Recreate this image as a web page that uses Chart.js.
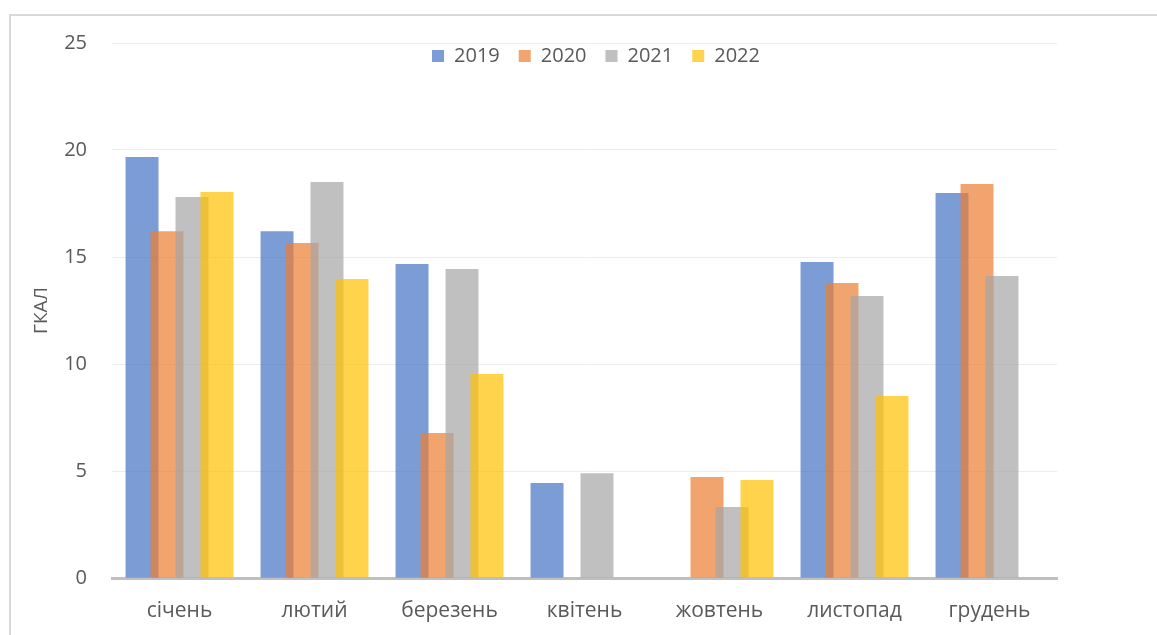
<!DOCTYPE html>
<html>
<head>
<meta charset="utf-8">
<script src="https://cdn.jsdelivr.net/npm/chart.js@4.4.1/dist/chart.umd.min.js"></script>
<style>
  body { margin: 0; background: #fff; }
  #wrap { position: relative; width: 1157px; height: 635px; overflow: hidden; }
  #frame { position: absolute; left: 9px; top: 14px; width: 1200px; height: 700px;
           border-left: 2px solid #d9d9d9; border-top: 2px solid #d9d9d9; }
  #chart { position: absolute; left: 0; top: 0; }
</style>
</head>
<body>
<div id="wrap">
  <div id="frame"></div>
  <canvas id="chart" width="1157" height="635"></canvas>
</div>
<script>
var months = ['січень', 'лютий', 'березень', 'квітень', 'жовтень', 'листопад', 'грудень']
var years = ['2019', '2020', '2021', '2022']
var colors = ['rgba(68,114,196,0.7)', 'rgba(237,125,49,0.7)', 'rgba(165,165,165,0.7)', 'rgba(255,192,0,0.7)']

var v2019 = [19.67, 16.2, 14.67, 4.44, null, 14.77, 17.99]
var v2020 = [16.2, 15.65, 6.78, null, 4.72, 13.79, 18.41]
var v2021 = [17.8, 18.5, 14.44, 4.9, 3.32, 13.18, 14.11]
var v2022 = [18.04, 13.97, 9.53, null, 4.58, 8.5, null]
var values = [v2019, v2020, v2021, v2022]

var yTicks = [0, 5, 10, 15, 20, 25]
var textColor = '#595959'
var fontFamily = "'Open Sans', sans-serif"

// move the legend down into the plot, centred over it
const legendShift = {
    id: 'legendShift',
    afterLayout(chart) {
        const lg = chart.legend
        const h = lg.bottom - lg.top
        const w = lg.right - lg.left
        lg.top = 27
        lg.bottom = lg.top + h
        lg.left = 596 - w / 2
        lg.right = lg.left + w
    }
}

// bars overlap, so paint the series in order: 2022 ends up on top
const drawInOrder = {
    id: 'drawInOrder',
    beforeDatasetsDraw(chart) {
        const area = chart.chartArea
        const ctx = chart.ctx
        chart.getSortedVisibleDatasetMetas().forEach(function(meta){
            ctx.save()
            ctx.beginPath()
            ctx.rect(area.left, area.top - 5, area.right - area.left, area.bottom - area.top + 5)
            ctx.clip()
            meta.controller.draw()
            ctx.restore()
        })
        return false
    }
}

const ctx = document.getElementById('chart').getContext('2d')
const data = {
    labels: months,
    datasets: years.map(function(y, i){
        return {
            label: y,
            data: values[i],
            backgroundColor: colors[i],
            borderWidth: 0,
            categoryPercentage: 0.74,
            barPercentage: 1.32
        }
    })
}
const config = {
    type: 'bar',
    data: data,
    plugins: [legendShift, drawInOrder],
    options: {
        responsive: false,
        animation: false,
        layout: {
            padding: { left: 0, right: 100, top: -6, bottom: 0 }
        },
        plugins: {
            legend: {
                position: 'top',
                labels: {
                    boxWidth: 12,
                    boxHeight: 12,
                    padding: 19,
                    color: textColor,
                    font: { family: fontFamily, size: 20 }
                }
            },
            tooltip: { enabled: false }
        },
        scales: {
            x: {
                grid: { display: false, drawTicks: false },
                border: { color: '#bfbfbf', width: 3 },
                ticks: {
                    padding: 20,
                    color: textColor,
                    font: { family: fontFamily, size: 21 }
                },
                afterFit: function(scale){ scale.height = 57 }
            },
            y: {
                min: 0,
                max: 25,
                afterBuildTicks: function(scale){
                    scale.ticks = yTicks.map(function(v){ return { value: v } })
                },
                grid: { color: '#ececec', lineWidth: 1, drawTicks: false },
                border: { display: false },
                ticks: {
                    padding: 25,
                    color: textColor,
                    font: { family: fontFamily, size: 20 }
                },
                title: {
                    display: true,
                    text: 'ГКАЛ',
                    color: textColor,
                    padding: { top: 30, bottom: 0 },
                    font: { family: fontFamily, size: 19 }
                },
                afterFit: function(scale){ scale.width = 112 }
            }
        }
    }
}
const myChart = new Chart(ctx, config)
</script>
</body>
</html>
